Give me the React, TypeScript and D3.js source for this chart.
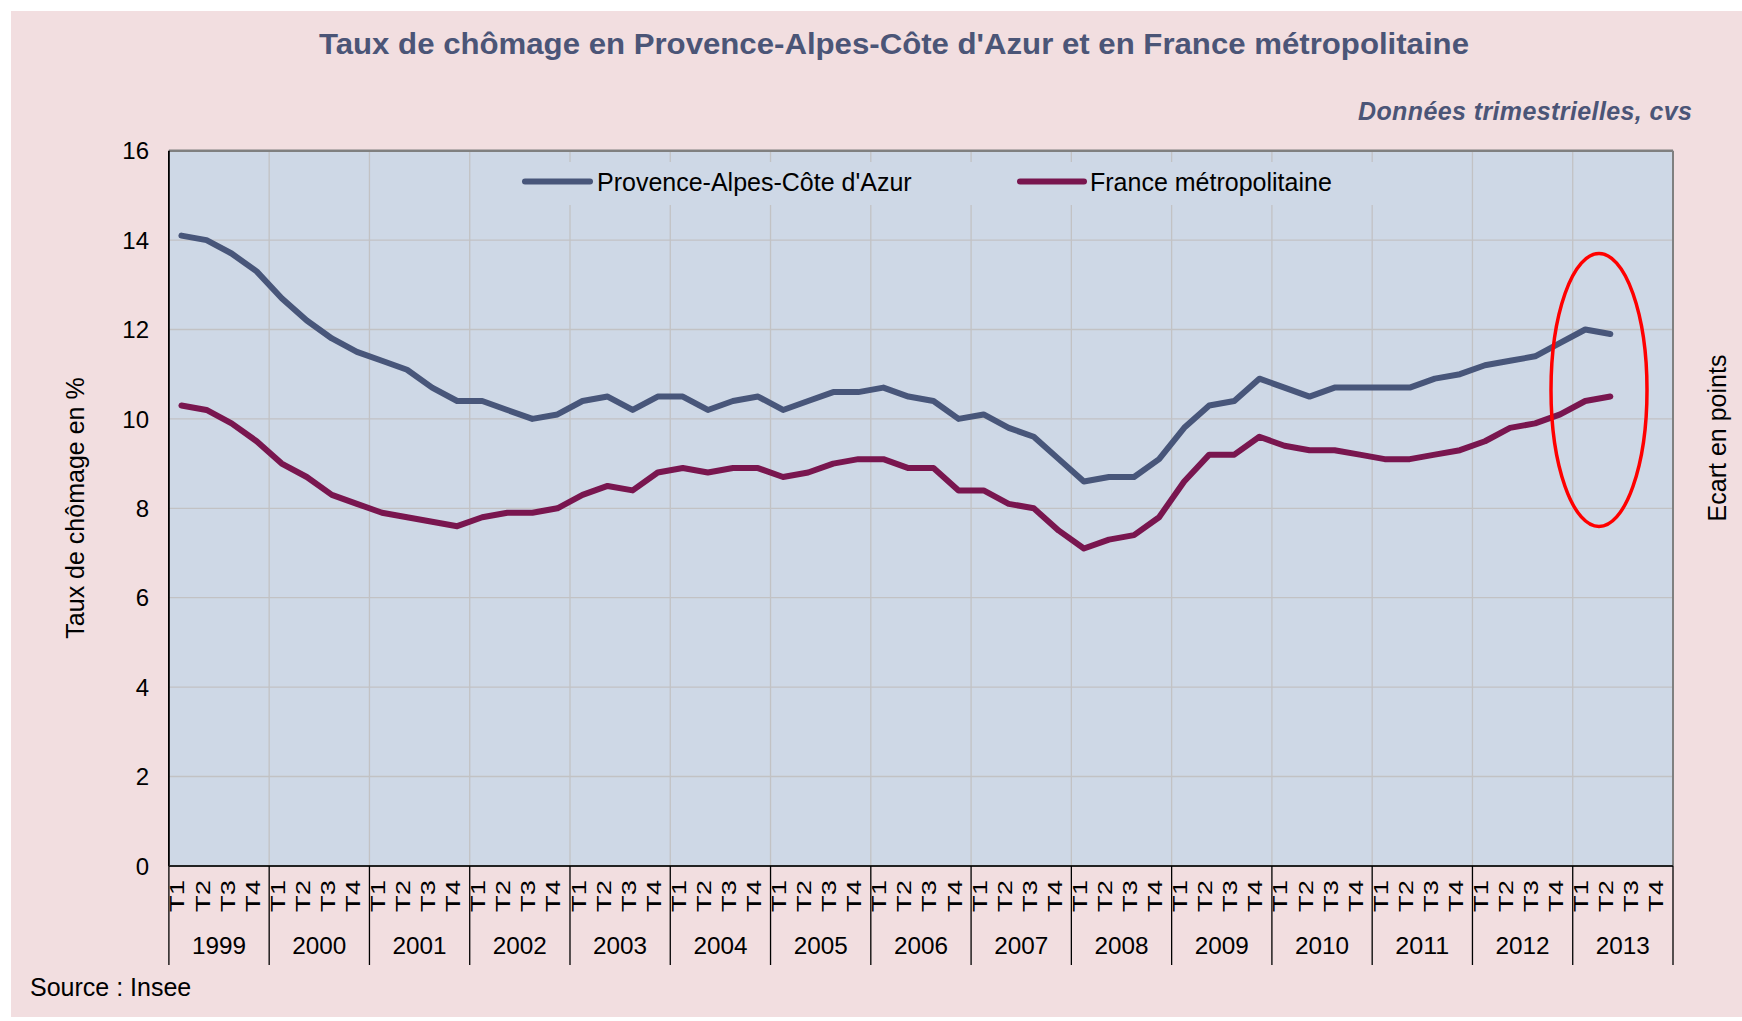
import React from 'react';
import * as d3 from 'd3';

const years = ['1999', '2000', '2001', '2002', '2003', '2004', '2005', '2006', '2007', '2008', '2009', '2010', '2011', '2012', '2013'];
const quarters = ['T1', 'T2', 'T3', 'T4'];

// taux de chômage trimestriel, 1999 T1 -> 2013 T2
const paca = [
  14.1, 14.0, 13.7, 13.3,
  12.7, 12.2, 11.8, 11.5,
  11.3, 11.1, 10.7, 10.4,
  10.4, 10.2, 10.0, 10.1,
  10.4, 10.5, 10.2, 10.5,
  10.5, 10.2, 10.4, 10.5,
  10.2, 10.4, 10.6, 10.6,
  10.7, 10.5, 10.4, 10.0,
  10.1, 9.8, 9.6, 9.1,
  8.6, 8.7, 8.7, 9.1,
  9.8, 10.3, 10.4, 10.9,
  10.7, 10.5, 10.7, 10.7,
  10.7, 10.7, 10.9, 11.0,
  11.2, 11.3, 11.4, 11.7,
  12.0, 11.9,
];
const france = [
  10.3, 10.2, 9.9, 9.5,
  9.0, 8.7, 8.3, 8.1,
  7.9, 7.8, 7.7, 7.6,
  7.8, 7.9, 7.9, 8.0,
  8.3, 8.5, 8.4, 8.8,
  8.9, 8.8, 8.9, 8.9,
  8.7, 8.8, 9.0, 9.1,
  9.1, 8.9, 8.9, 8.4,
  8.4, 8.1, 8.0, 7.5,
  7.1, 7.3, 7.4, 7.8,
  8.6, 9.2, 9.2, 9.6,
  9.4, 9.3, 9.3, 9.2,
  9.1, 9.1, 9.2, 9.3,
  9.5, 9.8, 9.9, 10.1,
  10.4, 10.5,
];
const yTicks = [0, 2, 4, 6, 8, 10, 12, 14, 16];
const seriesNames = ['Provence-Alpes-Côte d\'Azur', 'France métropolitaine'];

const W = 1742;
const H = 1021;
const left = 168.9;
const right = 1673;
const top = 150.7;
const bottom = 865.9;

const FONT = '"Liberation Sans", Arial, sans-serif';
const PACA_COL = '#48567a';
const FR_COL = '#79164f';
const TITLE_COL = '#4b5577';

export default function App() {
  const categories = years.flatMap((yr) => quarters.map((q) => `${yr} ${q}`));

  const x = d3.scaleBand<string>().domain(categories).range([left, right]).padding(0);
  const xc = (i: number) => (x(categories[i]) as number) + x.bandwidth() / 2;
  const y = d3.scaleLinear().domain([0, 16]).range([bottom, top]);

  const line = d3.line<number>()
    .x((_, i) => xc(i))
    .y((d) => y(d));

  const yearEdges = years.map((yr) => x(`${yr} T1`) as number).concat([right]);

  return (
    <svg width={W} height={H} style={{ position: 'absolute', left: 0, top: 0 }} fontFamily={FONT}>
      <rect x={0} y={0} width={W} height={H} fill="#ffffff" />
      <rect x={11} y={11} width={W - 11} height={1006} fill="#f2dee0" />

      <text x={894} y={54} textAnchor="middle" fontSize={29} fontWeight="bold" fill={TITLE_COL}
        textLength={1150} lengthAdjust="spacingAndGlyphs">
        Taux de chômage en Provence-Alpes-Côte d'Azur et en France métropolitaine
      </text>
      <text x={1692} y={120} textAnchor="end" fontSize={25} fontWeight="bold" fontStyle="italic" fill={TITLE_COL}
        textLength={334}>
        Données trimestrielles, cvs
      </text>

      {/* zone de tracé */}
      <rect x={left} y={top} width={right - left} height={bottom - top} fill="#ced8e6" />
      {yTicks.filter((t) => t > 0 && t < 16).map((t) => (
        <line key={'h' + t} x1={left} x2={right} y1={y(t)} y2={y(t)} stroke="#c2c2c4" strokeWidth={1.3} />
      ))}
      {yearEdges.slice(1, -1).map((xe, i) => (
        <line key={'v' + i} x1={xe} x2={xe} y1={top} y2={bottom} stroke="#c2c2c4" strokeWidth={1.3} />
      ))}

      {/* légende */}
      <rect x={476} y={162} width={990} height={43} fill="#ced8e6" />
      <line x1={525} x2={590} y1={181.5} y2={181.5} stroke={PACA_COL} strokeWidth={6} strokeLinecap="round" />
      <text x={597} y={190.5} fontSize={25} fill="#000">{seriesNames[0]}</text>
      <line x1={1020} x2={1084} y1={181.5} y2={181.5} stroke={FR_COL} strokeWidth={6} strokeLinecap="round" />
      <text x={1090} y={190.5} fontSize={25} fill="#000">{seriesNames[1]}</text>

      <path d={line(paca) as string} fill="none" stroke={PACA_COL} strokeWidth={6} strokeLinejoin="round" strokeLinecap="round" />
      <path d={line(france) as string} fill="none" stroke={FR_COL} strokeWidth={6} strokeLinejoin="round" strokeLinecap="round" />

      <ellipse cx={1599} cy={390} rx={48} ry={136.5} fill="none" stroke="#ff0000" strokeWidth={3.5} />

      {/* bordures */}
      <line x1={left} x2={right} y1={top} y2={top} stroke="#808080" strokeWidth={2.5} />
      <line x1={right} x2={right} y1={top} y2={bottom} stroke="#808080" strokeWidth={2} />
      <line x1={left} x2={left} y1={top} y2={bottom} stroke="#000" strokeWidth={1.8} />
      <line x1={left} x2={right} y1={bottom} y2={bottom} stroke="#222" strokeWidth={2} />

      {/* axe Y */}
      {yTicks.map((t) => (
        <text key={'yt' + t} x={149} y={y(t)} dy="0.36em" textAnchor="end" fontSize={24} fill="#000">{t}</text>
      ))}
      <text transform="translate(84,508) rotate(-90)" textAnchor="middle" fontSize={25} fill="#000">
        Taux de chômage en %
      </text>
      <text transform="translate(1726,438) rotate(-90)" textAnchor="middle" fontSize={25} fill="#000">
        Ecart en points
      </text>

      {/* axe X */}
      {categories.map((c, i) => (
        <text key={'q' + c} transform={`translate(${xc(i) + 3},912) rotate(-90)`} fontSize={20.5} fill="#000"
          textLength={32} lengthAdjust="spacingAndGlyphs">
          {quarters[i % 4]}
        </text>
      ))}
      {yearEdges.map((xe, i) => (
        <line key={'yl' + i} x1={xe} x2={xe} y1={bottom} y2={965} stroke="#000" strokeWidth={1.3} />
      ))}
      {years.map((yr, i) => (
        <text key={'yr' + yr} x={(yearEdges[i] + yearEdges[i + 1]) / 2} y={953.5} textAnchor="middle" fontSize={24} fill="#000"
          textLength={54} lengthAdjust="spacingAndGlyphs">
          {yr}
        </text>
      ))}

      <text x={30} y={996} fontSize={25} fill="#000">Source : Insee</text>
    </svg>
  );
}
